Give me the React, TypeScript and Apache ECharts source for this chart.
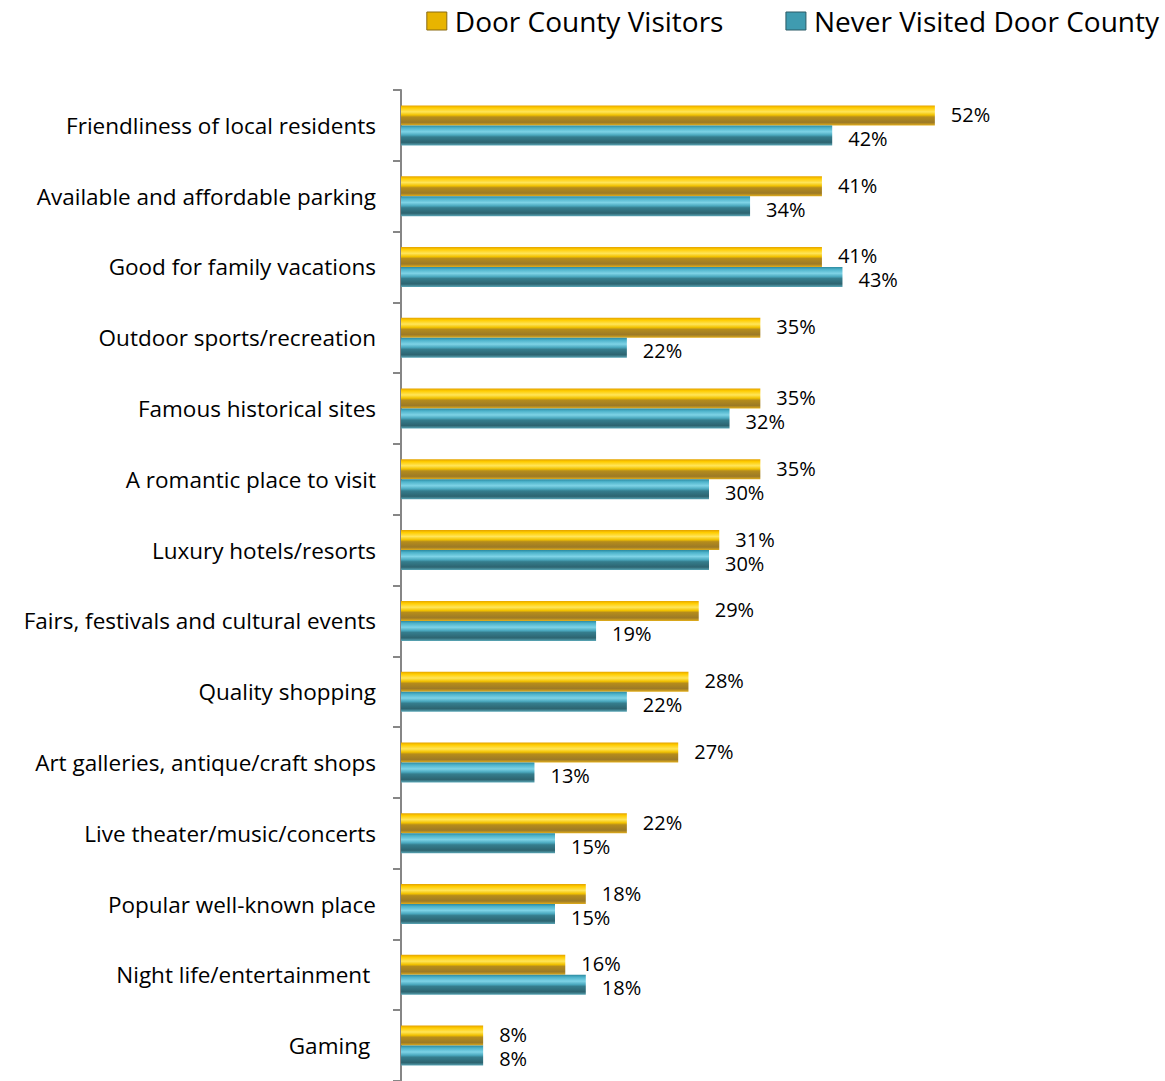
import React, { useEffect, useRef } from "react";
import * as echarts from "echarts";

const categories = [
  "Friendliness of local residents",
  "Available and affordable parking",
  "Good for family vacations",
  "Outdoor sports/recreation",
  "Famous historical sites",
  "A romantic place to visit",
  "Luxury hotels/resorts",
  "Fairs, festivals and cultural events",
  "Quality shopping",
  "Art galleries, antique/craft shops",
  "Live theater/music/concerts",
  "Popular well-known place",
  "Night life/entertainment ",
  "Gaming ",
];
const visitors = [52, 41, 41, 35, 35, 35, 31, 29, 28, 27, 22, 18, 16, 8];
const neverVisited = [42, 34, 43, 22, 32, 30, 30, 19, 22, 13, 15, 15, 18, 8];
const seriesNames = ["Door County Visitors", "Never Visited Door County"];

const FONT = "'Open Sans', 'Liberation Sans', sans-serif";

function grad(stops: [number, string][]) {
  return new echarts.graphic.LinearGradient(
    0, 0, 0, 1,
    stops.map(([offset, color]) => ({ offset, color }))
  );
}

const yellowGrad = () =>
  grad([
    [0, "#e3a200"],
    [0.12, "#ffcc00"],
    [0.32, "#ffe55a"],
    [0.48, "#f2c200"],
    [0.58, "#b58c1c"],
    [0.85, "#9c7a26"],
    [1, "#e2ad1a"],
  ]);
const tealGrad = () =>
  grad([
    [0, "#2c8aa0"],
    [0.12, "#4cb2ca"],
    [0.32, "#7ed3e6"],
    [0.48, "#4ba9bf"],
    [0.58, "#357d8d"],
    [0.85, "#2d6470"],
    [1, "#5aa6b6"],
  ]);

export default function App() {
  const ref = useRef<HTMLDivElement>(null);
  useEffect(() => {
    if (!ref.current) return;
    const chart = echarts.init(ref.current, undefined, { renderer: "svg" });
    const labelBase = {
      show: true,
      position: "right" as const,
      distance: 16,
      color: "#000",
      fontSize: 20,
      lineHeight: 20,
      fontFamily: FONT,
      formatter: "{c}%",
    };
    chart.setOption({
      animation: false,
      textStyle: { fontFamily: FONT },
      legend: {
        top: 2,
        right: 1,
        itemWidth: 20,
        itemHeight: 18,
        itemGap: 62,
        icon: "rect",
        textStyle: { fontSize: 28, color: "#000", fontFamily: FONT, padding: [0, 0, 0, 3] },
        data: [
          { name: seriesNames[0], itemStyle: { color: "#e8b400", borderColor: "#8a6a10", borderWidth: 1 } },
          { name: seriesNames[1], itemStyle: { color: "#3f9bb0", borderColor: "#2a5a66", borderWidth: 1 } },
        ],
      },
      grid: { left: 401, top: 90, width: 616, height: 994 },
      xAxis: { type: "value", min: 0, max: 60, show: false },
      yAxis: {
        type: "category",
        inverse: true,
        data: categories,
        axisLine: { show: true, lineStyle: { color: "#868686", width: 2 } },
        axisTick: { show: true, length: 8, lineStyle: { color: "#868686", width: 2 } },
        axisLabel: { color: "#000", fontSize: 22.5, fontFamily: FONT, margin: 25 },
      },
      series: [
        {
          name: seriesNames[0],
          type: "bar",
          data: visitors,
          barWidth: 20,
          barGap: "0%",
          itemStyle: { color: yellowGrad() },
          label: { ...labelBase, offset: [0, -1] },
        },
        {
          name: seriesNames[1],
          type: "bar",
          data: neverVisited,
          barWidth: 20,
          barGap: "0%",
          itemStyle: { color: tealGrad() },
          label: { ...labelBase, offset: [0, 3] },
        },
      ],
    });
    return () => chart.dispose();
  }, []);
  return (
    <div
      ref={ref}
      style={{ position: "absolute", left: 0, top: 0, width: 1165, height: 1081, background: "#fff" }}
    />
  );
}
